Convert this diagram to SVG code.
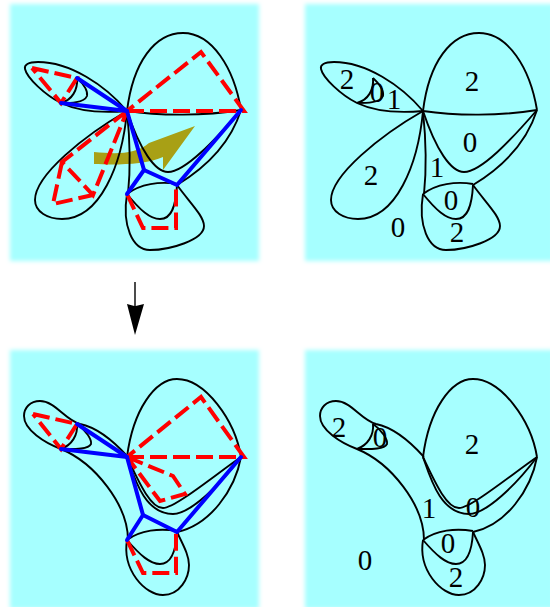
<svg xmlns="http://www.w3.org/2000/svg" width="550" height="607" viewBox="0 0 550 607">
<style>
.c{fill:none;stroke:#000;stroke-width:1.9;stroke-linejoin:round}
.r{fill:none;stroke:#f00;stroke-width:4;stroke-dasharray:17 6;stroke-linejoin:miter}
.b{fill:none;stroke:#00f;stroke-width:4;stroke-linejoin:round;stroke-linecap:round}
.p{fill:#a6ffff;filter:url(#blur)}
text{font-family:"Liberation Serif","Times New Roman",serif;font-size:29px;text-anchor:middle;fill:#000}
</style>
<defs>
<filter id="blur" x="-5%" y="-5%" width="110%" height="110%"><feGaussianBlur stdDeviation="2.2"/></filter>
<g id="top-curves">
<path class="c" d="M127,111C133,62 155,33 183,33C212,33 234,68 241,110"/>
<path class="c" d="M127,111C160,116 205,116 241,110"/>
<path class="c" d="M127,111C140,150 155,172 168,172C185,172 215,140 241,110"/>
<path class="c" d="M241,110C230,145 205,168 177,185"/>
<path class="c" d="M127,194C140,184 160,181 177,184"/>
<path class="c" d="M127,194C140,210 150,219 160,219C172,219 176,205 177,185"/>
<path class="c" d="M127,194C122,225 132,250 150,250C170,250 204,240 204,226C204,216 190,203 177,185"/>
<path class="c" d="M127,111C130,140 131,165 128,194"/>
<path class="c" d="M127,111C85,135 35,175 35,200C35,212 48,219 62,219C100,219 122,165 127,111"/>
<path class="c" d="M127,111C105,85 70,62 38,62C28,62 24,65 25,69C27,78 45,95 61,103C80,112 105,113 127,111"/>
<path class="c" d="M77,78C78,90 72,100 61,103"/>
<path class="c" d="M77,78C85,85 88,92 87,96C84,103 70,103 61,103"/>
</g>
<g id="bottom-curves">
<path class="c" d="M127,457C133,410 155,379 177,379C205,379 235,420 241,457"/>
<path class="c" d="M127,457C138,480 150,508 163,508C175,508 215,475 241,457"/>
<path class="c" d="M127,457C135,480 145,514 173,514C190,514 220,485 241,457"/>
<path class="c" d="M241,457C235,490 210,525 177,532"/>
<path class="c" d="M127,540C140,530 160,528 177,531"/>
<path class="c" d="M127,540C140,555 150,564 160,564C172,564 176,550 177,532"/>
<path class="c" d="M127,540C122,570 145,595 163,595C180,595 189,578 189,565C189,555 183,545 177,532"/>
<path class="c" d="M128,457C110,437 95,427 80,424C65,420 55,401 40,401C30,401 24,408 24,416C24,430 45,443 61,449C95,463 128,505 128,540"/>
<path class="c" d="M77,424C78,435 72,445 61,449"/>
<path class="c" d="M77,424C86,430 92,440 91,444C88,450 72,449 61,449"/>
</g>
</defs>
<rect class="p" x="10" y="4" width="249" height="257"/>
<rect class="p" x="305" y="4" width="249" height="257"/>
<rect class="p" x="10" y="350" width="249" height="259"/>
<rect class="p" x="305" y="350" width="249" height="259"/>
<path id="big-arrow" fill="#a8a015" d="M94,152C115,154 135,155 149,143L195,126L163,170L163,157C145,165 115,165 94,164Z"/>
<g id="connectors">
<use href="#top-curves"/>
<use href="#top-curves" x="296"/>
<use href="#bottom-curves"/>
<use href="#bottom-curves" x="296"/>
<path class="r" d="M127,111H244L201,52L127,111"/>
<path class="r" d="M32,68L77,78L61,103L32,68"/>
<path class="r" d="M127,111L62,162L93,195L127,111"/>
<path class="r" d="M62,162L53,204L93,195"/>
<path class="r" d="M127,194L143,228H176V185"/>
<path class="b" d="M61,103L127,111L77,78"/>
<path class="b" d="M127,111L144,170L177,185L241,110"/>
<path class="b" d="M144,170L127,194"/>
<path class="r" d="M127,457H244L201,397L127,457"/>
<path class="r" d="M33,414L77,424L61,449L33,414"/>
<path class="r" d="M127,457L173,476L185,494L160,501L127,457"/>
<path class="r" d="M127,540L143,573H176V532"/>
<path class="b" d="M61,449L127,457L77,424"/>
<path class="b" d="M127,457L143,515L177,532L241,457"/>
<path class="b" d="M143,515L127,540"/>
<path id="down-arrow" fill="#000" d="M134.300,282H135.700V306L144,304L135,335L127,304L134.300,306Z"/>
</g>
<g id="labels-top">
<text x="347" y="89">2</text><text x="394" y="109">1</text><text x="377" y="102">0</text><text x="472" y="91">2</text><text x="470" y="152">0</text><text x="437" y="177">1</text><text x="371" y="185">2</text><text x="451" y="210">0</text><text x="398" y="237">0</text><text x="457" y="242">2</text>
</g>
<g id="labels-bottom">
<text x="339" y="437">2</text><text x="380" y="447">0</text><text x="472" y="454">2</text><text x="429" y="518">1</text><text x="473" y="517">0</text><text x="448" y="553">0</text><text x="365" y="570">0</text><text x="456" y="587">2</text>
</g>
</svg>
